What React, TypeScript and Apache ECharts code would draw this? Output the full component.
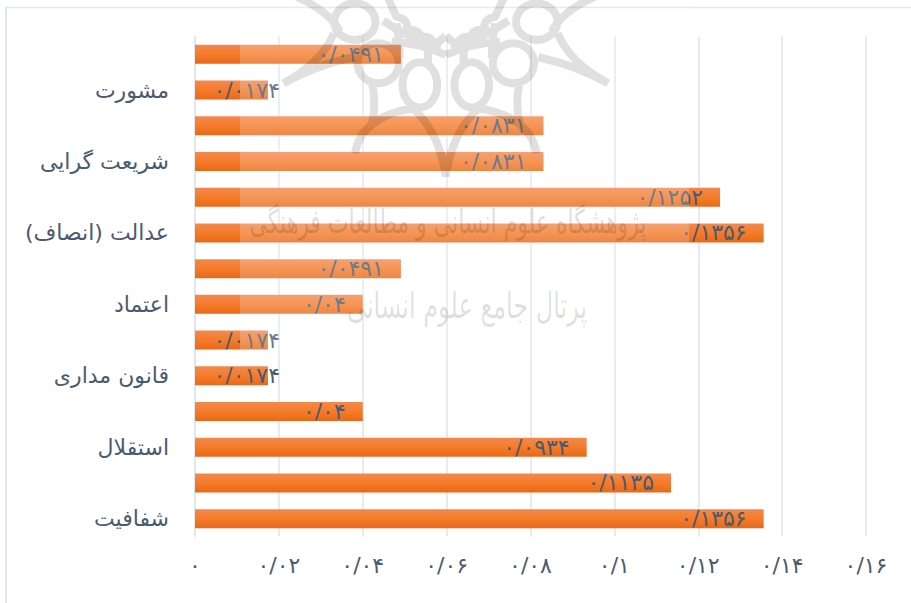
import React, { useEffect, useRef } from "react";
import * as echarts from "echarts";

const categories = ["شفافیت", "", "استقلال", "", "قانون مداری", "", "اعتماد", "", "عدالت (انصاف)", "", "شریعت گرایی", "", "مشورت", ""];
const values = [0.1356, 0.1135, 0.0934, 0.04, 0.0174, 0.0174, 0.04, 0.0491, 0.1356, 0.1252, 0.0831, 0.0831, 0.0174, 0.0491];
const axisMax = 0.16;
const axisStep = 0.02;
const watermarkLine1 = "پژوهشگاه علوم انسانی و مطالعات فرهنگی";
const watermarkLine2 = "پرتال جامع علوم انسانی";

const INK = "#4A5A70";
const RULE = "#E1E5ED";
const FONT = '"DejaVu Sans", "Noto Sans", sans-serif';

const persian = (v: number | string) =>
  String(v).replace(/^0\./, "0/").replace(/\d/g, (d) => "۰۱۲۳۴۵۶۷۸۹"[Number(d)]);

// Logo outline, drawn once for the left half and mirrored about the centre line.
const MID = 618;
const m = (x: number) => 2 * MID - x;
const ell = (c: number, y: number, rx: number, ry: number, f: (x: number) => number) =>
  `M${f(c - rx)} ${y}A${rx} ${ry} 0 1 1 ${f(c + rx)} ${y}A${rx} ${ry} 0 1 1 ${f(c - rx)} ${y}Z`;
const q = (a: number[], f: (x: number) => number) => {
  let s = `M${f(a[0])} ${a[1]}`;
  for (let i = 2; i + 3 < a.length; i += 4) s += `Q${f(a[i])} ${a[i + 1]} ${f(a[i + 2])} ${a[i + 3]}`;
  return s;
};
const logoCurves = [
  [130, 250, 230, 195, 340, 172],
  [130, 250, 245, 190, 282, 100],
  [170, -10, 270, 35, 300, 95],
  [345, 460, 365, 350, 520, 325],
  [395, 245, 412, 310, 395, 375],
  [618, 530, 600, 400, 520, 325],
  [445, -5, 455, 20, 470, 50, 510, 60, 500, 88, 535, 85, 545, 112, 575, 105, 585, 138, 605, 118, 618, 108],
  [430, 62, 500, 110, 600, 150],
  [455, 125, 540, 130, 618, 165],
  [560, 115, 565, 150, 565, 190],
  [470, 70, 480, 130, 480, 175],
  [520, 90, 540, 140, 600, 125],
];
const logoD = [1, 0]
  .flatMap((side) => {
    const f = side ? (x: number) => x : m;
    return [
      ell(345, 65, 62, 55, f),
      ell(540, 255, 52, 68, f),
      ell(415, 190, 62, 60, f),
      ...logoCurves.map((c) => q(c, f)),
    ];
  })
  .join("");
echarts.graphic.registerShape("uniLogo", echarts.graphic.extendPath(logoD, {}));

export default function App() {
  const ref = useRef<HTMLDivElement>(null);
  useEffect(() => {
    const chart = echarts.init(ref.current!, undefined, { renderer: "svg" });
    const barFill = new echarts.graphic.LinearGradient(0, 0, 0, 1, [
      { offset: 0, color: "#F2894F" },
      { offset: 0.55, color: "#F47A26" },
      { offset: 1, color: "#E8681A" },
    ]);
    chart.setOption({
      animation: false,
      backgroundColor: "#fff",
      textStyle: { fontFamily: FONT },
      grid: { left: 195, width: 671, top: 36.5, height: 500 },
      xAxis: {
        type: "value",
        min: 0,
        max: axisMax,
        interval: axisStep,
        axisLine: { show: false },
        axisTick: { show: false },
        splitLine: { show: true, lineStyle: { color: RULE, width: 1.6 } },
        axisLabel: {
          color: INK,
          fontSize: 22,
          margin: 18,
          fontFamily: FONT,
          formatter: (v: number) => persian(+v.toFixed(2)),
        },
      },
      yAxis: {
        type: "category",
        data: categories,
        axisLine: { show: true, lineStyle: { color: RULE, width: 1.6 } },
        axisTick: { show: false },
        axisLabel: { color: INK, fontSize: 22, margin: 26, interval: 0, fontFamily: FONT, padding: [10, 0, 0, 0] },
      },
      series: [
        {
          type: "bar",
          barWidth: 19,
          itemStyle: { color: barFill },
          label: {
            show: true,
            position: "insideRight",
            distance: 17,
            color: INK,
            fontSize: 22,
            fontFamily: FONT,
            formatter: (p: any) => persian(p.value),
          },
          data: values.map((v) =>
            v < 0.02 ? { value: v, label: { distance: 0, offset: [12, 0] } } : v
          ),
        },
      ],
      graphic: {
        elements: [
          { type: "line", silent: true, z: 1, shape: { x1: 6, y1: 7, x2: 6, y2: 603 }, style: { stroke: RULE, lineWidth: 2 } },
          { type: "line", silent: true, z: 1, shape: { x1: 5, y1: 7.5, x2: 911, y2: 7.5 }, style: { stroke: RULE, lineWidth: 1.4 } },
          { type: "rect", silent: true, z: 100, shape: { x: 240, y: 0, width: 449, height: 356 }, style: { fill: "rgba(255,255,255,0.2)" } },
          {
            type: "uniLogo",
            silent: true,
            z: 101,
            x: 240,
            y: 0,
            scaleX: 1 / 3,
            scaleY: 1 / 3,
            style: { fill: "none", stroke: "rgba(0,0,0,0.12)", lineWidth: 24 },
          },
          {
            type: "text",
            silent: true,
            z: 101,
            x: 448,
            y: 222,
            scaleY: 1.5,
            style: { text: watermarkLine1, fill: "rgba(0,0,0,0.15)", font: `22px ${FONT}`, align: "center", verticalAlign: "middle" },
          },
          {
            type: "text",
            silent: true,
            z: 101,
            x: 467,
            y: 306,
            scaleY: 1.5,
            style: { text: watermarkLine2, fill: "rgba(0,0,0,0.12)", font: `24px ${FONT}`, align: "center", verticalAlign: "middle" },
          },
        ],
      },
    });
    return () => chart.dispose();
  }, []);
  return <div ref={ref} style={{ position: "absolute", left: 0, top: 0, width: 911, height: 603 }} />;
}
